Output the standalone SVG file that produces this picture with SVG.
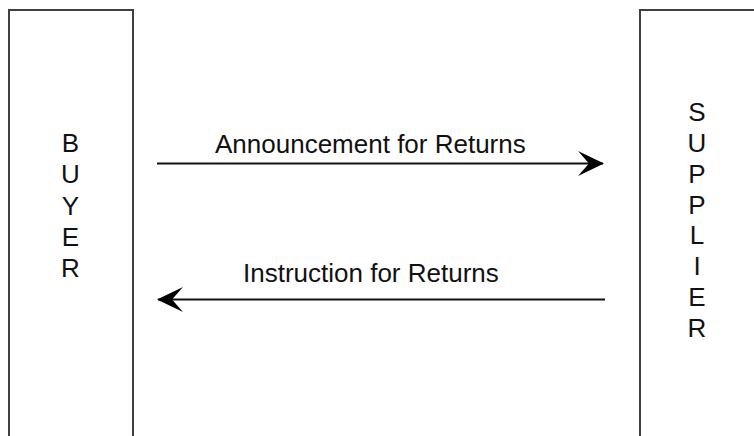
<svg xmlns="http://www.w3.org/2000/svg" width="754" height="436" viewBox="0 0 754 436">
<style>
.box{fill:#fff;stroke:#404040;stroke-width:2}
.lbl{font-family:"Liberation Sans",Arial,sans-serif;font-size:26px;fill:#111}
.vt{text-anchor:middle}
.conn{stroke:#111;stroke-width:2;fill:none}
</style>
<defs>
<marker id="arr" viewBox="0 0 26 26" refX="25" refY="13" markerWidth="26" markerHeight="26" markerUnits="userSpaceOnUse" orient="auto">
<path d="M0,0.5 L26,13 L0,25.5 L11,13 Z" fill="#000"/>
</marker>
</defs>
<rect width="754" height="436" fill="#fff"/>
<g id="buyer">
<rect class="box" x="9" y="10" width="124" height="440"/>
<text class="lbl vt" x="70.5" y="152">B</text>
<text class="lbl vt" x="70.5" y="183.3">U</text>
<text class="lbl vt" x="70.5" y="214.6">Y</text>
<text class="lbl vt" x="70.5" y="246">E</text>
<text class="lbl vt" x="70.5" y="277">R</text>
</g>
<g id="supplier">
<rect class="box" x="640" y="10" width="130" height="440"/>
<text class="lbl vt" x="697" y="121">S</text>
<text class="lbl vt" x="697" y="151.9">U</text>
<text class="lbl vt" x="697" y="182.7">P</text>
<text class="lbl vt" x="697" y="213.6">P</text>
<text class="lbl vt" x="697" y="244.4">L</text>
<text class="lbl vt" x="697" y="275.3">I</text>
<text class="lbl vt" x="697" y="306.1">E</text>
<text class="lbl vt" x="697" y="337">R</text>
</g>
<g id="connectors">
<line class="conn" x1="157" y1="163.5" x2="603" y2="163.5" marker-end="url(#arr)"/>
<text class="lbl" x="215" y="153">Announcement for Returns</text>
<line class="conn" x1="605" y1="299.5" x2="158" y2="299.5" marker-end="url(#arr)"/>
<text class="lbl" x="243" y="282">Instruction for Returns</text>
</g>
</svg>
